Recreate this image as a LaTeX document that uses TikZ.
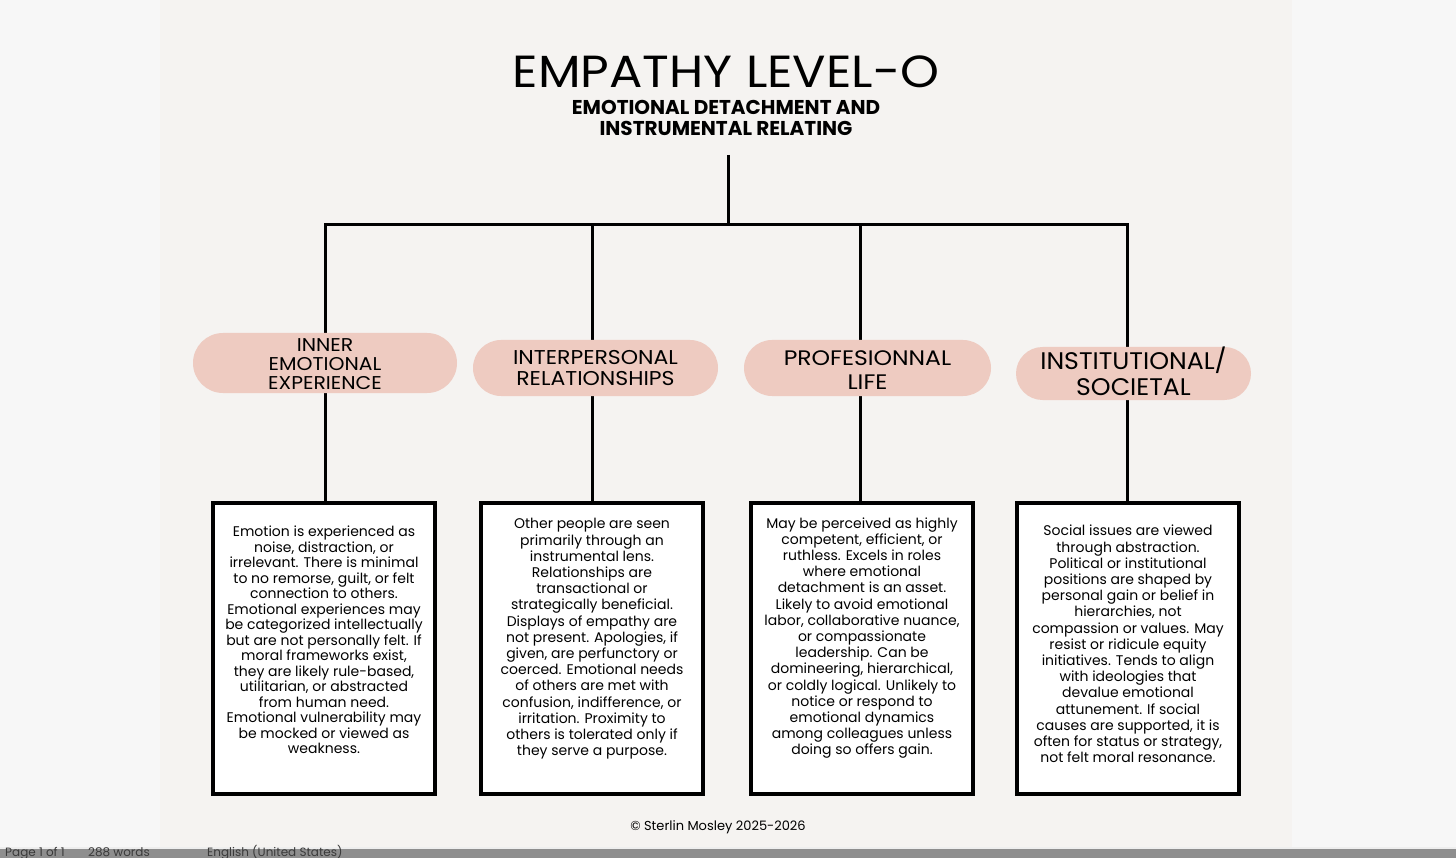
\documentclass[tikz,border=0pt]{standalone}
\usepackage{fontspec}
\setmainfont{Poppins}
\definecolor{outer}{HTML}{F7F7F7}
\definecolor{page}{HTML}{F5F3F1}
\definecolor{pill}{HTML}{EECBC1}
\definecolor{barg}{HTML}{8E8E8E}
\definecolor{bartxt}{HTML}{3A3A3A}
\begin{document}
\begin{tikzpicture}[x=1pt,y=-1pt,
  conn/.style={line width=3pt,black},
  pillbox/.style={fill=pill,inner sep=0pt},
  pilltext/.style={align=center,inner sep=0pt},
  descbox/.style={draw=black,line width=3.3pt,fill=white,minimum width=222pt,minimum height=291pt,inner sep=0pt},
  desctext/.style={align=center,font=\fontsize{14}{16.2}\selectfont,inner sep=0pt},
  stat/.style={anchor=base west,text=bartxt,font=\fontsize{12}{13}\selectfont,inner sep=0pt}
]
\useasboundingbox (0,0) rectangle (1456,858);
\fill[outer] (0,0) rectangle (1456,858);
\fill[page] (160,0) rectangle (1292,848);
\fill[barg] (0,848) rectangle (1456,858);
\fill[white!85!barg] (0,846.5) rectangle (1456,848.5);
\node[stat] (s1) at (5,856) {Page 1 of 1};
\node[stat] (s2) at (88,856) {288 words};
\node[stat] (s3) at (207,856) {English (United States)};

% title
\node[inner sep=0pt] (title) at (726,72) {\scalebox{1.1}[1]{\fontsize{45}{50}\selectfont EMPATHY LEVEL-O}};
\node[inner sep=0pt,align=center,font=\fontsize{20}{21}\bfseries\selectfont] (sub) at (726,118) {EMOTIONAL DETACHMENT AND\\INSTRUMENTAL RELATING};

% connectors
\coordinate (top) at (728,155);
\coordinate (j) at (728,225);
\coordinate (j1) at (325,225);
\coordinate (j2) at (592,225);
\coordinate (j3) at (860,225);
\coordinate (j4) at (1127,225);

% boxes
\node[descbox] (b1) at (324,648.5) {};
\node[descbox] (b2) at (592,648.5) {};
\node[descbox] (b3) at (862,648.5) {};
\node[descbox] (b4) at (1128,648.5) {};

\draw[conn] (top) -- (j);
\draw[conn,line cap=rect] (j1) -- (j4);
\draw[conn] (j1) -- (j1 |- b1.north);
\draw[conn] (j2) -- (j2 |- b2.north);
\draw[conn] (j3) -- (j3 |- b3.north);
\draw[conn] (j4) -- (j4 |- b4.north);

% pills
\node[pillbox,minimum width=264pt,minimum height=60pt,rounded corners=30pt] (p1) at (325,363) {};
\node[pillbox,minimum width=245pt,minimum height=56pt,rounded corners=28pt] (p2) at (595.5,368) {};
\node[pillbox,minimum width=247pt,minimum height=56pt,rounded corners=28pt] (p3) at (867.5,368) {};
\node[pillbox,minimum width=235pt,minimum height=53pt,rounded corners=26.5pt] (p4) at (1133.5,373.5) {};
\node[pilltext,font=\fontsize{18.5}{19}\selectfont] (l1) at ([yshift=-1pt]p1) {\scalebox{1.1}[1]{INNER}\\\scalebox{1.1}[1]{EMOTIONAL}\\\scalebox{1.1}[1]{EXPERIENCE}};
\node[pilltext,font=\fontsize{20}{21}\selectfont] (l2) at (p2) {\scalebox{1.1}[1]{INTERPERSONAL}\\\scalebox{1.1}[1]{RELATIONSHIPS}};
\node[pilltext,font=\fontsize{21}{23.5}\selectfont] (l3) at ([yshift=-2pt]p3) {\scalebox{1.12}[1]{PROFESIONNAL}\\\scalebox{1.12}[1]{LIFE}};
\node[pilltext,font=\fontsize{24}{26}\selectfont] (l4) at ([yshift=2pt]p4) {\scalebox{1.05}[1]{INSTITUTIONAL/}\\\scalebox{1.05}[1]{SOCIETAL}};

% texts
\node[desctext,font=\fontsize{14}{15.5}\selectfont] (t1) at (324,640) {Emotion is experienced as\\noise, distraction, or\\irrelevant. There is minimal\\to no remorse, guilt, or felt\\connection to others.\\Emotional experiences may\\be categorized intellectually\\but are not personally felt. If\\moral frameworks exist,\\they are likely rule-based,\\utilitarian, or abstracted\\from human need.\\Emotional vulnerability may\\be mocked or viewed as\\weakness.};
\node[desctext] (t2) at (592,639) {Other people are seen\\primarily through an\\instrumental lens.\\Relationships are\\transactional or\\strategically beneficial.\\Displays of empathy are\\not present. Apologies, if\\given, are perfunctory or\\coerced. Emotional needs\\of others are met with\\confusion, indifference, or\\irritation. Proximity to\\others is tolerated only if\\they serve a purpose.};
\node[desctext] (t3) at (862,638) {May be perceived as highly\\competent, efficient, or\\ruthless. Excels in roles\\where emotional\\detachment is an asset.\\Likely to avoid emotional\\labor, collaborative nuance,\\or compassionate\\leadership. Can be\\domineering, hierarchical,\\or coldly logical. Unlikely to\\notice or respond to\\emotional dynamics\\among colleagues unless\\doing so offers gain.};
\node[desctext] (t4) at (1128,644) {Social issues are viewed\\through abstraction.\\Political or institutional\\positions are shaped by\\personal gain or belief in\\hierarchies, not\\compassion or values. May\\resist or ridicule equity\\initiatives. Tends to align\\with ideologies that\\devalue emotional\\attunement. If social\\causes are supported, it is\\often for status or strategy,\\not felt moral resonance.};

\node[inner sep=0pt,font=\fontsize{13}{15}\selectfont] (copy) at (718,827) {© Sterlin Mosley 2025-2026};
\end{tikzpicture}
\end{document}
